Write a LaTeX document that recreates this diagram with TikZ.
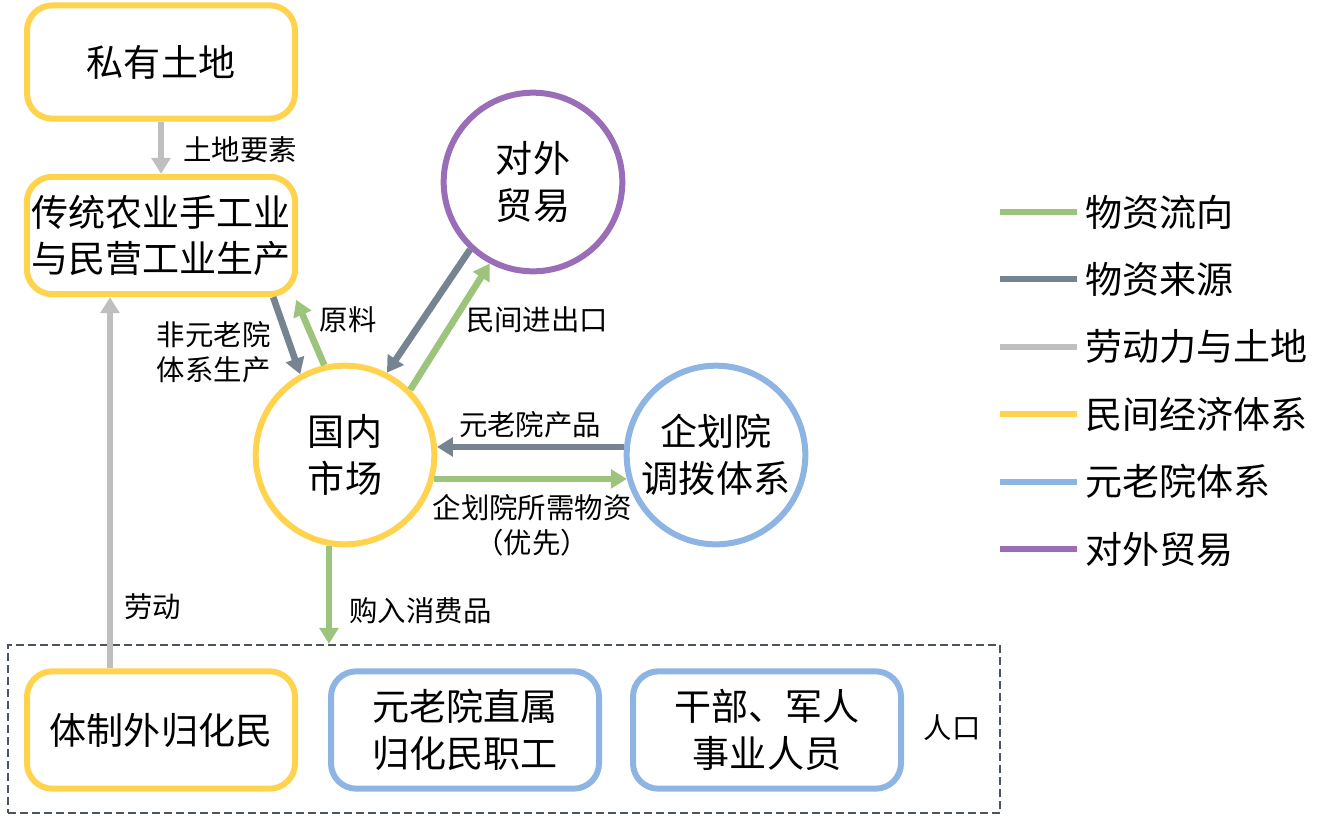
\documentclass[tikz,border=0pt]{standalone}
\usepackage{fontspec}
\setmainfont{Noto Sans CJK SC}
\usetikzlibrary{arrows.meta}

\definecolor{flowgreen}{HTML}{9CC47C}
\definecolor{srcgray}{HTML}{768390}
\definecolor{landgray}{HTML}{BFBFBF}
\definecolor{civilyellow}{HTML}{FFD34E}
\definecolor{senateblue}{HTML}{8DB4E2}
\definecolor{tradepurple}{HTML}{9A6DB8}
\definecolor{popgray}{HTML}{4A5560}

\tikzset{every picture/.style={line width=0.75pt}}
\tikzset{
  bigtext/.style={font=\fontsize{27.8}{35}\selectfont, align=center},
  lbl/.style={font=\fontsize{21.3}{26}\selectfont, inner sep=0.75pt},
  sysbox/.style={bigtext, draw=#1, line width=4.5pt, rounded corners=19pt,
    minimum width=201pt, minimum height=88pt},
  syscircle/.style={bigtext, circle, draw=#1, line width=4.5pt, minimum size=134pt, inner sep=0pt},
  flowarrow/.style={line width=5pt, draw=#1, -{Triangle[width=14pt,length=12pt]}},
}

\begin{document}
\begin{tikzpicture}[x=0.75pt,y=0.75pt,yscale=-1,xscale=1]
    \useasboundingbox (0,0) rectangle (1331,815);

    % Population frame
    \node [draw=popgray, dash pattern=on 6pt off 3pt, line width=1.7pt,
      minimum width=744pt, minimum height=126pt, inner sep=0pt] (pop) at (504,729) {};

    % Boxes
    \node [sysbox=civilyellow, minimum height=85pt] (priv) at (161,62) {私有土地};
    \node [sysbox=civilyellow] (trad) at (161,235.5) {传统农业手工业\\与民营工业生产};
    \node [sysbox=civilyellow] (outside) at (161,730) {体制外归化民};
    \node [sysbox=senateblue] (staff) at (465,730) {元老院直属\\归化民职工};
    \node [sysbox=senateblue] (cadre) at (767,730) {干部、军人\\事业人员};

    % Circles
    \node [syscircle=tradepurple] (trade) at (533,182) {对外\\贸易};
    \node [syscircle=civilyellow] (dom) at (345,455) {国内\\市场};
    \node [syscircle=senateblue] (plan) at (716,455) {企划院\\调拨体系};

    % Connectors
    \draw [flowarrow=landgray] (priv) -- (trad);
    \draw [flowarrow=landgray] ([xshift=-38.25pt]outside.north) -- ([xshift=-38.25pt]trad.south);
    \draw [flowarrow=srcgray] ([xshift=-18.75pt]trad.south east) -- (dom.119);
    \draw [flowarrow=flowgreen] (dom.103) -- ([xshift=-1.5pt,yshift=2pt]trad.south east);
    \draw [flowarrow=srcgray] (trade.227) -- (dom.63);
    \draw [flowarrow=flowgreen] (dom.45) -- (trade.242);
    \draw [flowarrow=srcgray] (plan.175) -- (dom.5);
    \draw [flowarrow=flowgreen] (dom.-15) -- (plan.195);
    \draw [flowarrow=flowgreen] (dom.260) -- (dom.260 |- pop.north);

    % Text Nodes
    \node [lbl] (landlbl) at (240,150) {土地要素};
    \node [lbl, anchor=west] (laborlbl) at (123,607) {劳动};
    \node [lbl, align=right, anchor=east] (nonlbl) at (272,352) {非元老院\\体系生产};
    \node [lbl] (rawlbl) at (348,320) {原料};
    \node [lbl] (tradelbl) at (537,320) {民间进出口};
    \node [lbl] (prodlbl) at (530,425) {元老院产品};
    \node [lbl, align=center] (needlbl) at (532,525) {企划院所需物资\\（优先）};
    \node [lbl, anchor=west] (buylbl) at (348,611) {购入消费品};
    \node [lbl] (poplbl) at (952,728) {人口};

    % Legend
    \foreach \c/\t [count=\i] in {flowgreen/物资流向, srcgray/物资来源, landgray/劳动力与土地,
      civilyellow/民间经济体系, senateblue/元老院体系, tradepurple/对外贸易} {
      \coordinate (ls\i) at (1000,{212+67.4*(\i-1)});
      \node [bigtext, anchor=west, inner sep=0.75pt] (lt\i) at (1084,{212+67.4*(\i-1)}) {\t};
      \draw [line width=4.5pt, draw=\c] (ls\i) -- ++(77,0);
    }

\end{tikzpicture}
\end{document}
